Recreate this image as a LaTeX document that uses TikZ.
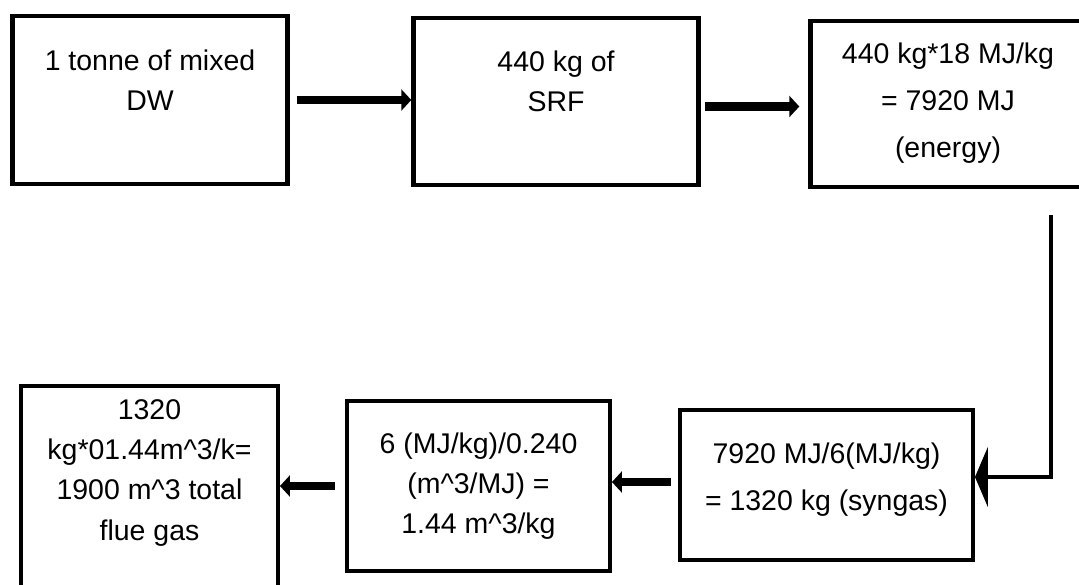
\documentclass[tikz,border=0pt]{standalone}
\usepackage{fontspec}
\setmainfont{Liberation Sans}
\usetikzlibrary{arrows.meta}
\begin{document}
\begin{tikzpicture}[x=1cm,y=1cm,
  stepbox/.style={draw, rectangle, line width=2.5pt, align=center, inner sep=0pt,
    font=\fontsize{16.2}{22.8}\selectfont},
  widebox/.style={stepbox, font=\fontsize{16.2}{26.8}\selectfont},
  flow/.style={line width=5pt, -{Triangle[length=0.2cm,width=0.42cm]}},
  feed/.style={line width=2.8pt, -{Triangle[length=0.26cm,width=1.2cm]}}]
\clip (0,0) rectangle (21.58,-11.68);
\node[stepbox, minimum width=5.5cm, minimum height=3.35cm] (dw) at (3.0,-2.0) {1 tonne of mixed\\DW\\ \mbox{}};
\node[stepbox, minimum width=5.7cm, minimum height=3.33cm] (srf) at (11.12,-2.03) {440 kg of\\SRF\\ \mbox{}};
\node[widebox, minimum width=5.5cm, minimum height=3.31cm] (energy) at (18.96,-2.08) {440 kg*18 MJ/kg\\= 7920 MJ\\(energy)\\[-0.78cm] \mbox{}};
\node[widebox, minimum width=5.85cm, minimum height=3.0cm] (syngas) at (16.53,-9.7) {7920 MJ/6(MJ/kg)\\= 1320 kg (syngas)\\[-0.6cm] \mbox{}};
\node[stepbox, minimum width=5.25cm, minimum height=3.39cm] (ratio) at (9.57,-9.72) {6 (MJ/kg)/0.240\\(m\textasciicircum3/MJ) =\\1.44 m\textasciicircum3/kg};
\node[stepbox, minimum width=5.13cm, minimum height=4.15cm] (flue) at (2.99,-9.8) {1320\\kg*01.44m\textasciicircum3/k=\\1900 m\textasciicircum3 total\\flue gas\\ \mbox{}};
\coordinate (turn) at (21.02,-9.54);
\draw[flow, shorten <=0.14cm] (dw.east) -- (dw.east -| srf.west);
\draw[flow, shorten <=0.08cm, shorten >=0.18cm] ([yshift=-0.1cm]srf.east) -- ([yshift=-0.1cm]srf.east -| energy.west);
\draw[feed, shorten <=0.52cm] (energy.south -| turn) -- (turn) -- (turn -| syngas.east);
\draw[flow, shorten <=0.14cm] ([yshift=0.06cm]syngas.west) -- ([yshift=0.06cm]syngas.west -| ratio.east);
\draw[flow, shorten <=0.2cm] (ratio.west) -- (ratio.west -| flue.east);
\end{tikzpicture}
\end{document}
